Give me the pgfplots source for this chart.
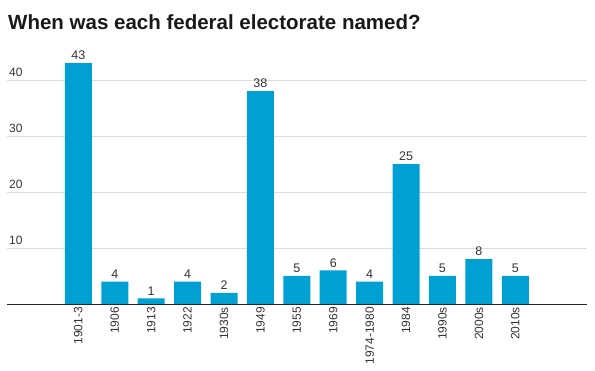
\documentclass[border=0pt]{standalone}
\usepackage{pgfplots}
\pgfplotsset{compat=1.18}
\usepackage{fontspec}
\setmainfont{Liberation Sans}
\definecolor{barblue}{HTML}{00A0D2}
\definecolor{txt}{HTML}{333333}
\definecolor{gridc}{HTML}{DDDDDD}
\begin{document}
\begin{tikzpicture}
\path[use as bounding box] (0,0) rectangle (595bp,371bp);
\node[anchor=west, font=\fontsize{20.5bp}{25bp}\selectfont\bfseries, text=black!90, inner sep=0pt] at (8bp,349bp) {When was each federal electorate named?};
\begin{axis}[
  at={(7bp,67bp)}, anchor=south west,
  scale only axis, width=580bp, height=252bp,
  xmin=-1.96, xmax=13.97, ymin=0, ymax=45,
  axis x line=bottom, axis y line=left,
  x axis line style={-, black!85, line width=1pt},
  y axis line style={draw=none},
  major tick length=0pt,
  xtick=data,
  xticklabels={1901-3,1906,1913,1922,1930s,1949,1955,1969,1974-1980,1984,1990s,2000s,2010s},
  xticklabel style={rotate=90, anchor=east, font=\fontsize{12bp}{14bp}\selectfont, text=txt, inner sep=3pt},
  ytick={10,20,30,40},
  yticklabel style={anchor=south west, font=\fontsize{12bp}{14bp}\selectfont, text=txt, inner sep=1pt, xshift=1bp, yshift=2bp},
  /pgf/number format/assume math mode=true,
  ymajorgrids, grid style={gridc, line width=0.8pt},
  nodes near coords,
  nodes near coords style={font=\fontsize{12.5bp}{14bp}\selectfont, text=txt, inner sep=3pt},
]
\addplot[ybar, bar width=27bp, fill=barblue, draw=none] coordinates {
(0,43) (1,4) (2,1) (3,4) (4,2) (5,38) (6,5) (7,6) (8,4) (9,25) (10,5) (11,8) (12,5)};
\end{axis}
\end{tikzpicture}
\end{document}
